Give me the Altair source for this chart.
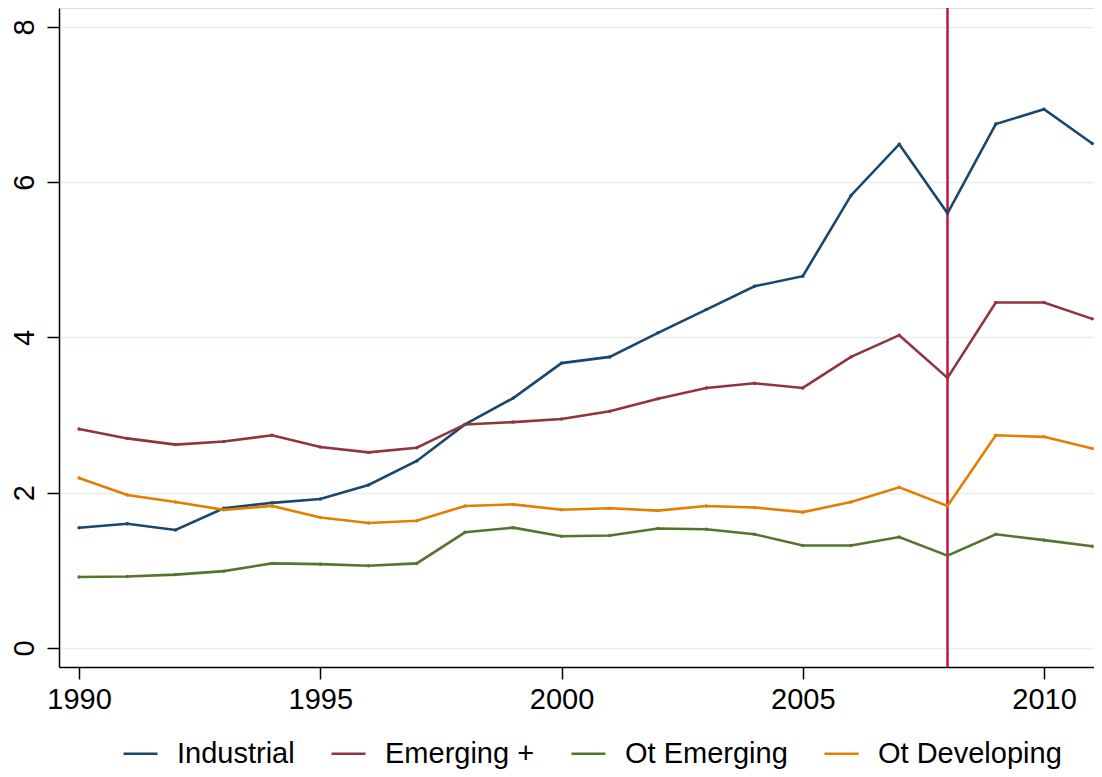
import altair as alt
import pandas as pd

years = list(range(1990, 2012))
industrial = [1.55, 1.60, 1.52, 1.80, 1.87, 1.92, 2.10, 2.41, 2.88, 3.22, 3.67, 3.75,
              4.06, 4.36, 4.66, 4.79, 5.83, 6.49, 5.60, 6.75, 6.94, 6.50]
emerging_plus = [2.82, 2.70, 2.62, 2.66, 2.74, 2.59, 2.52, 2.58, 2.88, 2.91, 2.95, 3.05,
                 3.21, 3.35, 3.41, 3.35, 3.75, 4.03, 3.48, 4.45, 4.45, 4.24]
ot_emerging = [0.915, 0.92, 0.945, 0.99, 1.09, 1.08, 1.06, 1.09, 1.49, 1.55, 1.44, 1.45,
               1.54, 1.53, 1.465, 1.32, 1.32, 1.43, 1.19, 1.465, 1.39, 1.31]
ot_developing = [2.19, 1.97, 1.88, 1.78, 1.83, 1.68, 1.61, 1.64, 1.83, 1.85, 1.78, 1.80,
                 1.77, 1.83, 1.81, 1.75, 1.88, 2.07, 1.83, 2.74, 2.72, 2.57]

series_names = ["Industrial", "Emerging +", "Ot Emerging", "Ot Developing"]
series_colors = ["#1a476f", "#90353b", "#55752f", "#e37e00"]
crisis_year = [2008]
x_ticks = [1990, 1995, 2000, 2005, 2010]
y_ticks = [0, 2, 4, 6, 8]

rows = []
for name, vals in zip(series_names, [industrial, emerging_plus, ot_emerging, ot_developing]):
    for yr, v in zip(years, vals):
        rows.append({"year": yr, "value": v, "series": name})
df = pd.DataFrame(rows)
rule_df = pd.DataFrame({"year": crisis_year})

FONT = "Liberation Sans"

x_enc = alt.X(
    "year:Q",
    scale=alt.Scale(domain=[1989.585, 2011.036], nice=False, zero=False),
    axis=alt.Axis(
        values=x_ticks, format="d", title=None, grid=False,
        labelFontSize=29, labelFont=FONT, labelColor="black",
        tickSize=12, tickWidth=1.5, tickColor="black",
        domainColor="black", domainWidth=1.5, labelPadding=6,
        labelFlush=False,
    ),
)
y_enc = alt.Y(
    "value:Q",
    scale=alt.Scale(domain=[-0.245, 8.245], nice=False, zero=False),
    axis=alt.Axis(
        values=y_ticks, title=None, grid=True, gridColor="#e6eef0", gridWidth=1.5,
        labelFontSize=29, labelFont=FONT, labelColor="black", labelAngle=-90,
        labelAlign="center", labelBaseline="bottom",
        tickSize=12, tickWidth=1.5, tickColor="black",
        domainColor="black", domainWidth=1.5, labelPadding=8,
        labelFlush=False,
    ),
)

lines = alt.Chart(df).mark_line(
    strokeWidth=2.6,
    point=alt.OverlayMarkDef(size=12, filled=True),
).encode(
    x=x_enc,
    y=y_enc,
    color=alt.Color(
        "series:N",
        scale=alt.Scale(domain=series_names, range=series_colors),
        sort=series_names,
        legend=alt.Legend(
            title=None, orient="none", direction="horizontal",
            legendX=63, legendY=727,
            symbolType="stroke", symbolSize=1156, symbolStrokeWidth=2.6,
            labelFontSize=29, labelFont=FONT, labelColor="black",
            labelOffset=18, columnPadding=31, labelLimit=400,
        ),
    ),
    detail="series:N",
)

rule = alt.Chart(rule_df).mark_rule(color="#c8143c", strokeWidth=2.5).encode(
    x=alt.X("year:Q")
)

chart = alt.layer(rule, lines).properties(
    width=1035,
    height=659,
    autosize=alt.AutoSizeParams(type="none"),
    padding={"left": 51, "top": 0, "right": 0, "bottom": 102},
).configure_view(stroke=None).configure(background="white")

chart.save("out.html", embed_options={"renderer": "svg", "actions": False})
